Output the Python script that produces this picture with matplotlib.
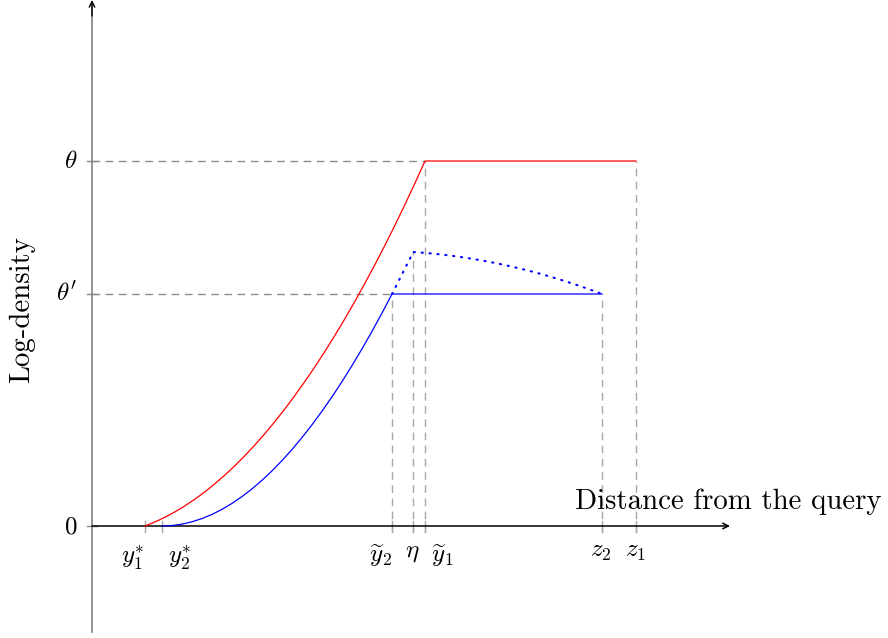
import matplotlib
matplotlib.use("Agg")
import matplotlib.pyplot as plt

plt.rcParams['mathtext.fontset'] = 'cm'

# ---- data (x: distance from the query, y: log-density) ----
theta = 36.5
theta_p = 23.2
y1_star, y2_star = 5.3, 7.0
y2_tilde, eta, y1_tilde = 30.0, 32.1, 33.3
z2, z1 = 51.0, 54.4

red_x = [5.3, 6.3, 7.3, 8.3, 9.3, 10.3, 11.3, 12.3, 13.3, 14.3, 15.3, 16.3, 17.3, 18.3,
         19.3, 20.3, 21.3, 22.3, 23.3, 24.3, 25.3, 26.3, 27.3, 28.3, 29.3, 30.3, 31.3,
         32.3, 33.3, 54.4]
red_y = [0.0, 0.405, 0.877, 1.415, 2.020, 2.692, 3.429, 4.234, 5.105, 6.042, 7.046,
         8.116, 9.253, 10.457, 11.727, 13.064, 14.467, 15.936, 17.472, 19.075, 20.744,
         22.480, 24.282, 26.151, 28.086, 30.088, 32.156, 34.291, 36.5, 36.5]

blue_x = [7.0, 8.0, 9.0, 10.0, 11.0, 12.0, 13.0, 14.0, 15.0, 16.0, 17.0, 18.0, 19.0,
          20.0, 21.0, 22.0, 23.0, 24.0, 25.0, 26.0, 27.0, 28.0, 29.0, 30.0, 51.0]
blue_y = [0.0, 0.047, 0.187, 0.420, 0.745, 1.160, 1.666, 2.260, 2.943, 3.713, 4.570,
          5.513, 6.540, 7.652, 8.846, 10.123, 11.482, 12.921, 14.440, 16.038, 17.714,
          19.467, 21.296, 23.2, 23.2]

dot_x = [30.0, 32.13, 33.13, 34.13, 35.13, 36.13, 37.13, 38.13, 39.13, 40.13, 41.13,
         42.13, 43.13, 44.13, 45.13, 46.13, 47.13, 48.13, 49.13, 50.13, 51.0]
dot_y = [23.2, 27.40, 27.325, 27.233, 27.125, 27.001, 26.860, 26.702, 26.527, 26.337,
         26.130, 25.906, 25.666, 25.410, 25.137, 24.847, 24.540, 24.218, 23.879, 23.523,
         23.2]

xtick_pos = [y1_star, y2_star, y2_tilde, eta, y1_tilde, z2, z1]
xtick_labels = [r'$y_1^{\ast}$', r'$y_2^{\ast}$', r'$\widetilde{y}_2$', r'$\eta$',
                r'$\widetilde{y}_1$', r'$z_2$', r'$z_1$']
ytick_pos = [0.0, theta_p, theta]
ytick_labels = [r'$0$', r"$\theta'$", r'$\theta$']

# ---- style / layout ----
xlabel_dx = [-1.25, 1.8, -1.1, -0.1, 1.7, -0.1, -0.1]
xlabel_y = [-3.2, -3.2, -3.0, -2.6, -3.0, -2.5, -2.5]
FS = 18
FS_TXT = 20.8

fig = plt.figure(figsize=(8.88, 6.38), dpi=100)
ax = fig.add_axes([0, 0, 1, 1])
ax.set_xlim(-9.2, 79.6)
ax.set_ylim(-11.2, 52.6)
ax.axis('off')

dash = (0, (5.5, 4.0))
hgray = '#8c8c8c'
vgray = '#a8a8a8'

# horizontal guides
ax.plot([0, y1_tilde], [theta, theta], color=hgray, lw=1.0, linestyle=dash)
ax.plot([0, y2_tilde], [theta_p, theta_p], color=hgray, lw=1.0, linestyle=dash)
# vertical guides
for xv, top in [(y2_tilde, theta_p), (eta, dot_y[1]), (y1_tilde, theta), (z2, theta_p), (z1, theta)]:
    ax.plot([xv, xv], [-0.55, top], color=vgray, lw=1.0, linestyle=dash)
# x ticks
for xv in xtick_pos:
    ax.plot([xv, xv], [-0.55, 0.55], color=vgray, lw=1.0)
# y ticks
for yv in ytick_pos:
    ax.plot([-0.5, 0.5], [yv, yv], color=hgray, lw=1.0)

# axes
ax.plot([0, 0], [-10.6, 52.2], color='#808080', lw=1.2, zorder=3)
ax.annotate('', xy=(0, 52.6), xytext=(0, 51.0),
            arrowprops=dict(arrowstyle='->', color='black', lw=1.0, mutation_scale=10,
                            shrinkA=0, shrinkB=0), zorder=4)
ax.annotate('', xy=(63.8, 0), xytext=(0, 0),
            arrowprops=dict(arrowstyle='->', color='black', lw=1.1, mutation_scale=10,
                            shrinkA=0, shrinkB=0), zorder=4)

# curves
ax.plot(red_x, red_y, color='red', lw=0.9, zorder=5)
ax.plot(blue_x, blue_y, color='blue', lw=0.9, zorder=5)
ax.plot(dot_x, dot_y, color='blue', lw=1.5, linestyle=(0, (0.6, 3.2)),
        dash_capstyle='round', zorder=5)

# labels
for xv, lab, dx, yl in zip(xtick_pos, xtick_labels, xlabel_dx, xlabel_y):
    ax.text(xv + dx, yl, lab, fontsize=FS, ha='center', va='center')
for yv, lab in zip(ytick_pos, ytick_labels):
    ax.text(-1.5, yv, lab, fontsize=FS, ha='right', va='center')

ax.text(48.3, 2.4, 'Distance from the query', fontsize=FS_TXT, ha='left',
        va='center', family='cmr10')
ax.text(-7.0, 21.6, 'Log-density', fontsize=FS_TXT, ha='center', va='center',
        rotation=90, family='cmr10')

fig.savefig('out.png', dpi=100)
